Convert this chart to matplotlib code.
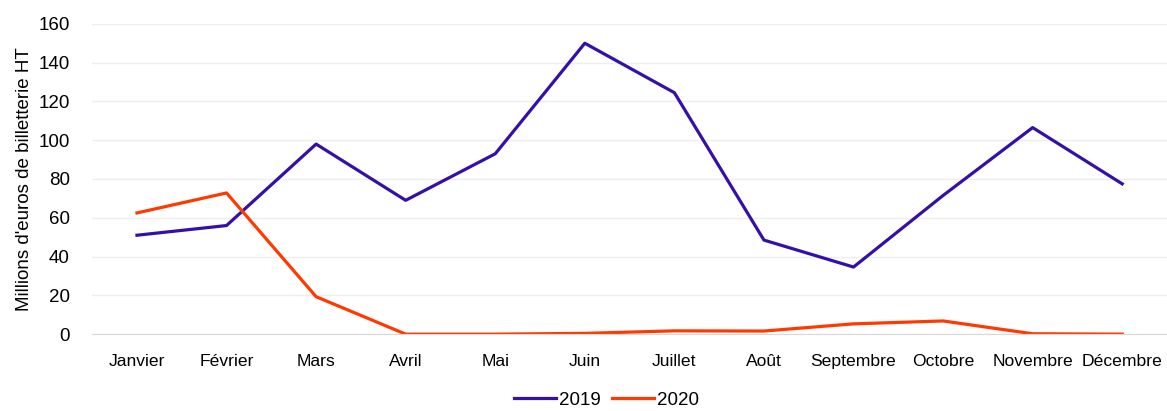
import matplotlib
matplotlib.use('Agg')
import matplotlib.pyplot as plt

months = ['Janvier', 'Février', 'Mars', 'Avril', 'Mai', 'Juin', 'Juillet',
          'Août', 'Septembre', 'Octobre', 'Novembre', 'Décembre']
sales_2019 = [51, 56, 98, 69, 93, 150, 124.5, 48.5, 34.6, 71.5, 106.5, 77.5]
sales_2020 = [62.5, 72.8, 19.3, 0, 0, 0.4, 1.7, 1.6, 5.3, 6.8, 0.2, 0]

plt.rcParams['font.family'] = ['Liberation Sans', 'DejaVu Sans']
plt.rcParams['font.size'] = 12.5

fig = plt.figure(figsize=(11.67, 4.11), dpi=100)
ax = fig.add_axes([0.079, 0.187, 0.921, 0.755])

x = range(len(months))
ax.plot(x, sales_2019, color='#3510A8', linewidth=2.3, label='2019')
ax.plot(x, sales_2020, color='#FF3A00', linewidth=2.3, label='2020')

ax.set_ylim(0, 160)
ax.set_xlim(-0.5, 11.5)
ax.set_yticks(range(0, 161, 20))
ax.set_xticks(list(x))
ax.set_xticklabels(months)
ax.yaxis.grid(True, color='#EEEEEE', linewidth=1)
ax.set_axisbelow(True)
for s in ['top', 'right', 'left']:
    ax.spines[s].set_visible(False)
ax.spines['bottom'].set_color('#D9D9D9')
ax.tick_params(axis='y', length=0, labelsize=13.5, pad=16)
ax.tick_params(axis='x', length=0, labelsize=12.6, pad=14)
ax.set_ylabel("Millions d'euros de billetterie HT", fontsize=13.5, labelpad=4)

fig.legend(loc='lower center', bbox_to_anchor=(0.52, -0.035), ncol=2, frameon=False,
           fontsize=13.5, handlelength=2.2, handletextpad=0.2, columnspacing=0.6)

fig.savefig('out.png', dpi=100)
